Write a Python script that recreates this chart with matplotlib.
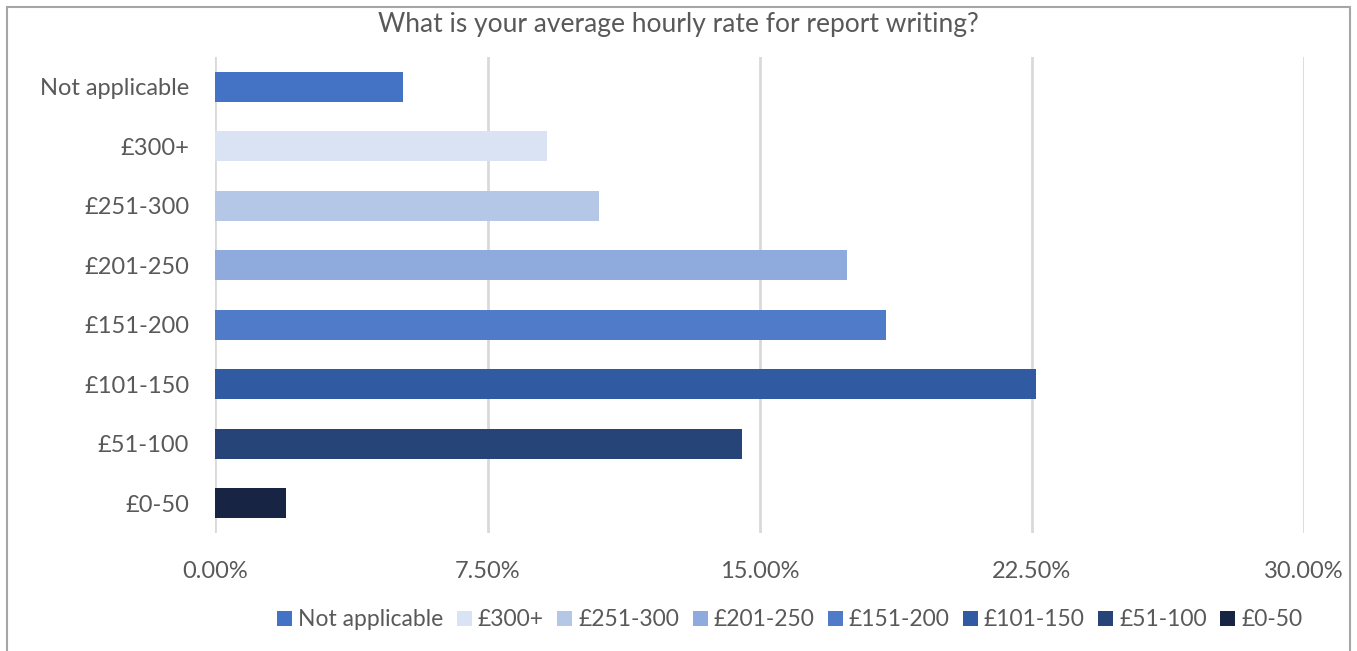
import matplotlib.pyplot as plt
from matplotlib.patches import Rectangle
from matplotlib.ticker import FuncFormatter

# Survey responses: share of respondents per hourly rate band
categories = ["£0-50", "£51-100", "£101-150", "£151-200",
              "£201-250", "£251-300", "£300+", "Not applicable"]
shares = [1.94, 14.52, 22.62, 18.49, 17.41, 10.57, 9.13, 5.17]
colors = ["#172443", "#264478", "#305AA2", "#4F7BC9",
          "#8FAADC", "#B4C7E7", "#DAE3F3", "#4472C4"]

# legend order runs from the top bar down
legend_order = ["Not applicable", "£300+", "£251-300", "£201-250",
                "£151-200", "£101-150", "£51-100", "£0-50"]

plt.rcParams['font.family'] = ['Lato', 'DejaVu Sans']
grey = "#595959"

fig = plt.figure(figsize=(13.57, 6.51), dpi=100)
ax = fig.add_axes([0.1588, 0.1813, 0.8018, 0.7311])

bars = ax.barh(range(len(categories)), shares, height=0.5, color=colors, zorder=3)

ax.set_xlim(0, 30)
ax.set_ylim(-0.5, len(categories) - 0.5)
ax.set_xticks([0, 7.5, 15, 22.5, 30])
ax.xaxis.set_major_formatter(FuncFormatter(lambda v, p: f"{v:.2f}%"))
ax.set_yticks(range(len(categories)))
ax.set_yticklabels(categories)
ax.tick_params(axis='both', length=0, labelsize=17, colors=grey)
ax.tick_params(axis='x', pad=20)
ax.tick_params(axis='y', pad=19)
ax.grid(axis='x', color="#D9D9D9", linewidth=2, zorder=0)
for s in ax.spines.values():
    s.set_visible(False)

fig.text(0.5, 0.963, "What is your average hourly rate for report writing?",
         ha='center', va='center', fontsize=19, color=grey)

handles = [bars[categories.index(c)] for c in legend_order]
leg = fig.legend(handles, legend_order, loc='center', bbox_to_anchor=(0.582, 0.048),
                 ncol=8, frameon=False, fontsize=16.5, handlelength=0.65,
                 handleheight=0.65, handletextpad=0.25, columnspacing=0.6)
for t in leg.get_texts():
    t.set_color(grey)

# chart border
fig.patches.append(Rectangle((0.005, -0.01), 0.99, 1.0, transform=fig.transFigure,
                             fill=False, edgecolor="#A6A6A6", linewidth=1.5))

fig.savefig("out.png", dpi=100)
